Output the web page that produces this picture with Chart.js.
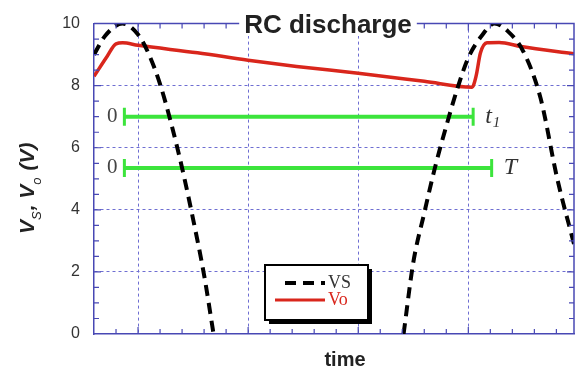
<!DOCTYPE html>
<html>
<head>
<meta charset="utf-8">
<script src="https://cdn.jsdelivr.net/npm/chart.js@4/dist/chart.umd.min.js"></script>
<style>
  html, body { margin: 0; padding: 0; background: #fff; overflow: hidden; }
  #wrap { width: 586px; height: 369px; }
</style>
</head>
<body>
<div id="wrap"><canvas id="rc" width="586" height="369"></canvas></div>
<script>
// time axis in arbitrary units (one minor tick = 1)
const vsTime   = [0, 0.5, 1.29, 2, 2.5, 3, 3.5, 4, 4.5, 5, 5.43, 9.7, 14.06, 14.5, 15, 15.5, 16, 16.5, 17, 17.6, 18.19, 18.8, 19.5, 20.28, 21.04, 21.8];
const vsValues = [9.0, 9.6, 10.0, 9.65, 9.0, 8.05, 6.8, 5.35, 3.7, 1.9, 0, null, 0, 2.3, 3.9, 5.4, 6.7, 7.9, 8.9, 9.6, 10.0, 9.75, 9.1, 7.6, 5.0, 2.9];

const voTime   = [0, 0.6, 1.0, 1.3, 2, 4.7, 7, 9.2, 12, 15, 17.17, 17.35, 17.55, 17.85, 18.4, 19.4, 21.8];
const voValues = [8.3, 8.95, 9.35, 9.38, 9.3, 9.06, 8.82, 8.62, 8.4, 8.14, 7.95, 8.3, 9.05, 9.38, 9.39, 9.26, 9.03];

// interval markers: 0 .. t1 and 0 .. T
const markerNames = ["t1", "T"];
const markerLevel = [7.0, 5.35];
const markerStart = [1.38, 1.38];
const markerEnd   = [17.22, 18.06];

const yTicks = [0, 2, 4, 6, 8, 10];
const xMajorTicks = [2, 7, 12, 17];

const gridBlue = "#6e6ed2";
const axisBlue = "#4848b4";
const green = "#3ce43c";

function pts(xs, ys) {
  return xs.map((x, i) => ({ x: x, y: ys[i] }));
}

const markerSets = markerNames.map((name, i) => ({
  label: name,
  data: [{ x: markerStart[i], y: markerLevel[i] }, { x: markerEnd[i], y: markerLevel[i] }],
  borderColor: green,
  borderWidth: 4,
  pointStyle: "line",
  rotation: 90,
  pointRadius: 9,
  pointBorderWidth: 3,
  pointBorderColor: green,
  pointBackgroundColor: green
}));

const extras = {
  id: "extras",
  afterDraw(chart) {
    const ctx = chart.ctx;
    const a = chart.chartArea;
    const xs = chart.scales.x, ys = chart.scales.y;
    ctx.save();

    // top and right frame
    ctx.strokeStyle = axisBlue;
    ctx.lineWidth = 1.5;
    ctx.beginPath();
    ctx.moveTo(a.left, a.top); ctx.lineTo(a.right, a.top); ctx.lineTo(a.right, a.bottom);
    ctx.stroke();

    // inward tick marks on all four sides
    ctx.lineWidth = 1.2;
    for (let v = 1; v <= Math.floor(xs.max); v++) {
      const px = xs.getPixelForValue(v);
      const len = xMajorTicks.includes(v) ? 7 : 5;
      ctx.beginPath();
      ctx.moveTo(px, a.bottom); ctx.lineTo(px, a.bottom - len);
      ctx.moveTo(px, a.top); ctx.lineTo(px, a.top + len);
      ctx.stroke();
    }
    for (let v = 0.5; v < ys.max; v += 0.5) {
      const py = ys.getPixelForValue(v);
      const len = yTicks.includes(v) ? 7 : 5;
      ctx.beginPath();
      ctx.moveTo(a.left, py); ctx.lineTo(a.left + len, py);
      ctx.moveTo(a.right, py); ctx.lineTo(a.right - len, py);
      ctx.stroke();
    }

    // marker labels
    ctx.textBaseline = "middle";
    markerNames.forEach((name, i) => {
      const py = ys.getPixelForValue(markerLevel[i]);
      ctx.fillStyle = "#444";
      ctx.font = '21px "Liberation Serif"';
      ctx.textAlign = "right";
      ctx.fillText("0", xs.getPixelForValue(markerStart[i]) - 7, py);
      ctx.fillStyle = "#333";
      ctx.textAlign = "left";
      const ex = xs.getPixelForValue(markerEnd[i]) + 12;
      ctx.font = 'italic 24px "Liberation Serif"';
      ctx.fillText(name.charAt(0), ex, py);
      if (name.length > 1) {
        const w = ctx.measureText(name.charAt(0)).width;
        ctx.font = 'italic 15px "Liberation Serif"';
        ctx.fillText(name.slice(1), ex + w + 1, py + 6);
      }
    });

    // title sitting on the top frame
    ctx.font = 'bold 26px "Liberation Sans"';
    ctx.textAlign = "center";
    const title = "RC discharge";
    const tw = ctx.measureText(title).width;
    ctx.fillStyle = "#fff";
    ctx.fillRect(328 - tw / 2 - 5, 12, tw + 10, 24);
    ctx.fillStyle = "#222";
    ctx.fillText(title, 328, 26);

    // x title
    ctx.font = 'bold 20px "Liberation Sans"';
    ctx.fillStyle = "#222";
    ctx.fillText("time", 345, 360);

    // y title with subscripts
    ctx.save();
    ctx.translate(34, 234);
    ctx.rotate(-Math.PI / 2);
    ctx.textAlign = "left";
    ctx.textBaseline = "alphabetic";
    ctx.fillStyle = "#222";
    const parts = [["V", 0], ["S", 1], [", ", 0], ["V", 0], ["o", 1], [" (V)", 0]];
    let cx = 0;
    parts.forEach(([t, sub]) => {
      ctx.font = sub ? 'italic 13px "Liberation Sans"' : 'italic bold 21px "Liberation Sans"';
      ctx.fillText(t, cx, sub ? 7 : 0);
      cx += ctx.measureText(t).width + (sub ? 1 : 0);
    });
    ctx.restore();

    // legend box
    const lx = 265, ly = 265, lw = 103, lh = 55;
    ctx.fillStyle = "#000";
    ctx.fillRect(lx + 4, ly + 4, lw, lh);
    ctx.fillStyle = "#fff";
    ctx.fillRect(lx, ly, lw, lh);
    ctx.strokeStyle = "#000";
    ctx.lineWidth = 2;
    ctx.strokeRect(lx, ly, lw, lh);
    const entries = ["VS", "Vo"].map(l => chart.data.datasets.find(d => d.label === l));
    entries.forEach((ds, i) => {
      const y = ly + 18 + i * 17;
      ctx.strokeStyle = ds.borderColor;
      ctx.lineWidth = i === 0 ? 4 : 3;
      ctx.setLineDash(ds.borderDash || []);
      ctx.beginPath();
      ctx.moveTo(i === 0 ? lx + 20 : lx + 10, y);
      ctx.lineTo(lx + 60, y);
      ctx.stroke();
      ctx.setLineDash([]);
      ctx.font = '18px "Liberation Serif"';
      ctx.fillStyle = i === 0 ? "#333" : ds.borderColor;
      ctx.textAlign = "left";
      ctx.textBaseline = "middle";
      ctx.fillText(ds.label, lx + 63, y);
    });

    ctx.restore();
  }
};

new Chart(document.getElementById("rc"), {
  type: "line",
  data: {
    datasets: [
      {
        label: "VS",
        data: pts(vsTime, vsValues),
        borderColor: "#000",
        borderWidth: 4,
        borderDash: [11, 7],
        pointRadius: 0,
        cubicInterpolationMode: "monotone",
        spanGaps: false,
        fill: false
      },
      ...markerSets,
      {
        label: "Vo",
        data: pts(voTime, voValues),
        borderColor: "#d9261c",
        borderWidth: 3.5,
        pointRadius: 0,
        cubicInterpolationMode: "monotone",
        fill: false
      }
    ]
  },
  options: {
    responsive: false,
    animation: false,
    layout: { padding: { top: 23, right: 2, left: 0, bottom: 0 } },
    scales: {
      x: {
        type: "linear",
        min: 0,
        max: 21.8,
        afterBuildTicks: scale => { scale.ticks = xMajorTicks.map(v => ({ value: v })); },
        afterFit: scale => { scale.height = 35; },
        ticks: { display: false },
        grid: { color: gridBlue, lineWidth: 1, drawTicks: false },
        border: { color: axisBlue, width: 1.5, dash: [3, 3] }
      },
      y: {
        min: 0,
        max: 10,
        afterBuildTicks: scale => { scale.ticks = yTicks.map(v => ({ value: v })); },
        afterFit: scale => { scale.width = 94; },
        ticks: {
          padding: 14,
          color: "#333",
          font: { family: "Liberation Sans", size: 16 }
        },
        grid: {
          color: c => (c.tick && (c.tick.value === 0 || c.tick.value === 10)) ? "rgba(0,0,0,0)" : gridBlue,
          lineWidth: 1,
          drawTicks: false
        },
        border: { color: axisBlue, width: 1.5, dash: [3, 3] }
      }
    },
    plugins: {
      legend: { display: false },
      tooltip: { enabled: false }
    }
  },
  plugins: [extras]
});
</script>
</body>
</html>
